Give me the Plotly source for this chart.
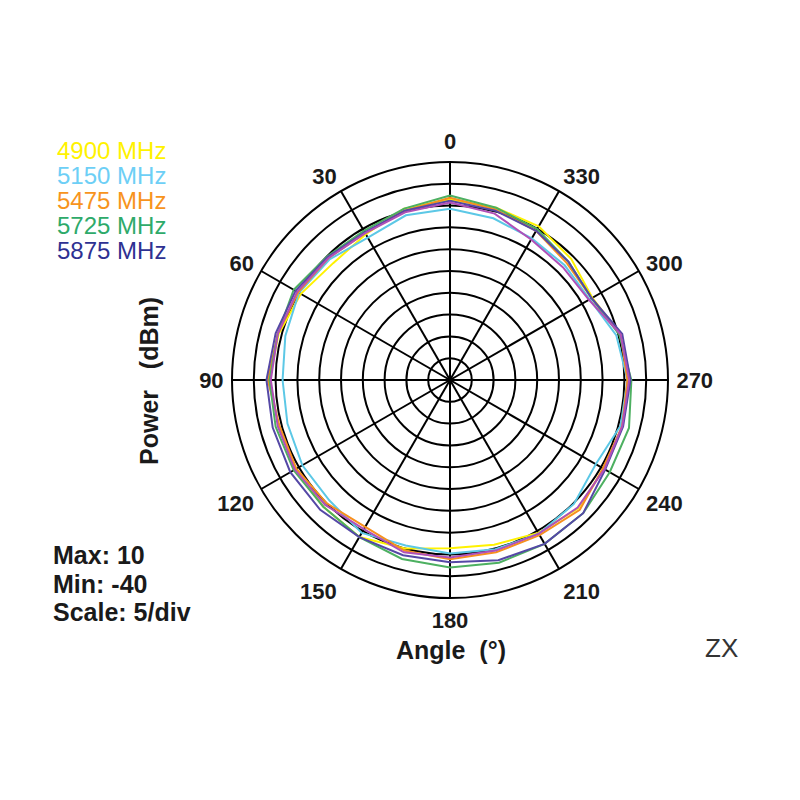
import plotly.graph_objects as go

angles = [0, 15, 30, 45, 60, 75, 90, 105, 120, 135, 150, 165,
          180, 195, 210, 225, 240, 255, 270, 285, 300, 315, 330, 345]

p4900 = [1.4, 0.7, -1.4, -2.1, -0.5, 0.7, 1.4, 0.7, 0.9, 1.1, 1.6, 0.0,
         -1.4, -0.9, 0.5, 1.6, 0.7, 0.9, 1.1, 0.5, -2.3, -0.7, 0.7, 0.9]
p5150 = [-0.7, -0.9, -2.3, -0.9, 0.0, -0.9, -1.6, -1.4, -0.9, -0.9, 0.5, -0.7,
         -0.2, 0.2, 0.7, 0.2, -1.4, 0.5, 0.7, -0.5, -3.0, -2.8, -2.5, -1.6]
p5475 = [1.8, 0.2, -1.1, -0.5, 0.2, 0.9, 1.8, 0.5, 0.7, 0.0, -1.1, 0.5,
         1.1, 0.9, 1.1, 2.1, 0.5, 0.9, 0.7, 0.5, -2.5, -2.1, -0.5, 0.5]
p5725 = [2.3, 0.7, -0.5, 0.0, 1.4, 0.9, 1.4, 1.4, 1.4, 1.1, 1.6, 2.5,
         3.0, 3.4, 3.4, 3.2, 2.3, 2.5, 1.6, 0.2, -2.5, -1.6, 0.0, 0.9]
p5875 = [1.1, 0.2, -0.9, -0.2, 0.9, 1.4, 2.1, 2.1, 2.3, 2.1, 1.6, 1.6,
         1.8, 2.8, 3.4, 3.2, 1.1, 1.1, 1.4, 0.9, -2.5, -1.6, -0.5, 0.2]
p_extra = [0.7, -0.2, -1.1, -0.5, 0.5, 0.9, 1.1, 0.9, 1.1, 0.5, -0.5, 0.9,
           0.7, 0.5, 0.7, 1.4, 0.9, 0.9, 1.1, 0.5, -3.2, -3.4, -2.8, -0.5]

series = [
    ("4900 MHz", p4900, "#FFF200"),
    ("5150 MHz", p5150, "#5CC8E6"),
    ("5475 MHz", p5475, "#F7901E"),
    ("5725 MHz", p5725, "#4DB061"),
    ("5875 MHz", p5875, "#5548A6"),
    ("extra", p_extra, "#B050B8"),
]
legend_colors = ["#FFF200", "#6DCFF6", "#F7941D", "#2EAA6A", "#2E3192"]
legend_names = ["4900 MHz", "5150 MHz", "5475 MHz", "5725 MHz", "5875 MHz"]

tick_vals = [0, 30, 60, 90, 120, 150, 180, 210, 240, 270, 300, 330]
tick_text = [str(v) for v in tick_vals]

FONT = "Liberation Sans, Arial, sans-serif"
OFF = 8  # page body margin in the browser


def px(x):
    return (x - OFF) / 800


def py(y):
    return 1 - (y - OFF) / 800


fig = go.Figure()
for name, vals, col in series:
    fig.add_trace(go.Scatterpolar(
        r=vals + vals[:1], theta=angles + angles[:1], mode="lines",
        line=dict(color=col, width=2), name=name, showlegend=False))

cx, cy, R = 450, 380, 218
fig.update_layout(
    width=800, height=800, margin=dict(l=0, r=0, t=0, b=0),
    paper_bgcolor="white", plot_bgcolor="white", showlegend=False,
    polar=dict(
        domain=dict(x=[px(cx - R), px(cx + R)], y=[py(cy + R), py(cy - R)]),
        bgcolor="white",
        radialaxis=dict(range=[-40, 10], dtick=5, tick0=-40, showticklabels=False,
                        ticks="", showline=False, gridcolor="black", gridwidth=1.5),
        angularaxis=dict(rotation=90, direction="counterclockwise",
                         tickmode="array", tickvals=tick_vals, ticktext=tick_text,
                         ticks="outside", ticklen=3, tickcolor="rgba(0,0,0,0)",
                         showline=True, linecolor="black", linewidth=2,
                         gridcolor="black", gridwidth=1.5,
                         tickfont=dict(family=FONT, size=22, color="#1a1a1a", weight="bold")),
    ),
)

ann = []
for i, (nm, c) in enumerate(zip(legend_names, legend_colors)):
    ann.append(dict(x=px(55), y=py(151 + 25 * i), xref="paper", yref="paper",
                    text=nm, showarrow=False, xanchor="left", yanchor="middle",
                    font=dict(family=FONT, size=24, color=c)))
for i, t in enumerate(["Max: 10", "Min: -40", "Scale: 5/div"]):
    ann.append(dict(x=px(51), y=py(555 + 28.5 * i), xref="paper", yref="paper",
                    text=t, showarrow=False, xanchor="left", yanchor="middle",
                    font=dict(family=FONT, size=25, color="#1a1a1a", weight="bold")))
ann.append(dict(x=px(451), y=py(650), xref="paper", yref="paper", text="Angle  (°)",
                showarrow=False, xanchor="center", yanchor="middle",
                font=dict(family=FONT, size=25, color="#1a1a1a", weight="bold")))
ann.append(dict(x=px(149), y=py(381), xref="paper", yref="paper", text="Power   (dBm)",
                showarrow=False, xanchor="center", yanchor="middle", textangle=-90,
                font=dict(family=FONT, size=25, color="#1a1a1a", weight="bold")))
ann.append(dict(x=px(721), y=py(648), xref="paper", yref="paper", text="ZX",
                showarrow=False, xanchor="center", yanchor="middle",
                font=dict(family=FONT, size=26, color="#333333")))
fig.update_layout(annotations=ann)

fig.write_html("out.html")
